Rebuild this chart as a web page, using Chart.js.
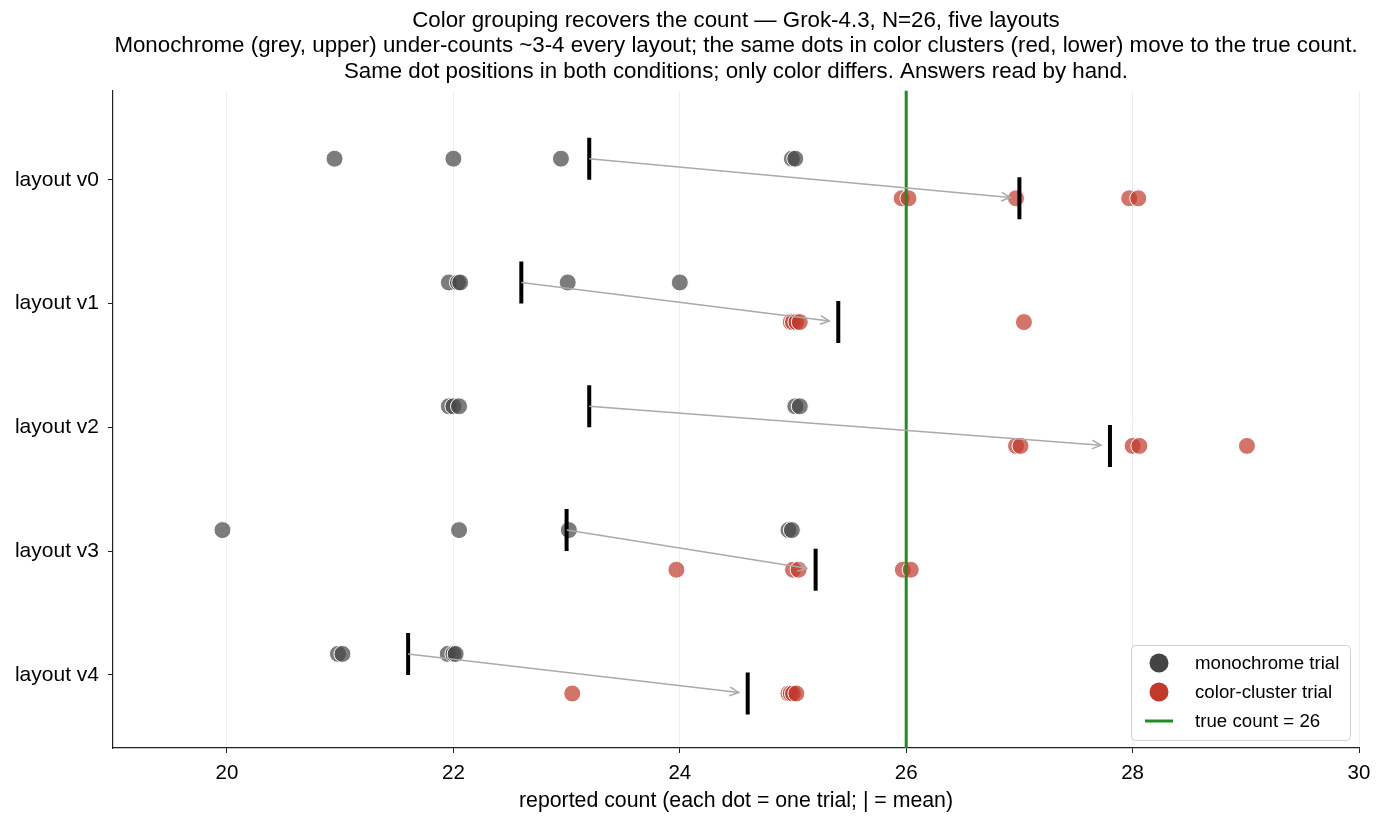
<!DOCTYPE html>
<html>
<head>
<meta charset="utf-8">
<script src="https://cdn.jsdelivr.net/npm/chart.js@4.4.1/dist/chart.umd.min.js"></script>
<style>
  body { margin: 0; background: #fff; }
  #wrap { width: 1386px; height: 825px; }
</style>
</head>
<body>
<div id="wrap"><canvas id="chart" width="1386" height="825"></canvas></div>
<script>
// layouts, top to bottom
const layouts = ['layout v0', 'layout v1', 'layout v2', 'layout v3', 'layout v4'];

// reported counts per trial (slightly jittered, as plotted)
const monoTrials = [
    [20.95, 22.0, 22.95, 24.99, 25.02],
    [21.96, 22.04, 22.06, 23.01, 24.0],
    [21.96, 22.0, 22.05, 25.02, 25.06],
    [19.96, 22.05, 23.02, 24.96, 24.99],
    [20.98, 21.02, 21.95, 22.0, 22.02]
];
const colorTrials = [
    [25.96, 26.02, 26.97, 27.97, 28.05],
    [24.98, 25.0, 25.03, 25.06, 27.04],
    [26.97, 27.01, 28.0, 28.06, 29.01],
    [23.97, 25.0, 25.05, 25.97, 26.04],
    [23.05, 24.96, 24.98, 25.0, 25.03]
];

// means per layout
const monoMeans = [23.2, 22.6, 23.2, 23.0, 21.6];
const colorMeans = [27.0, 25.4, 27.8, 25.2, 24.6];

const trueCount = 26;
const xTicks = [20, 22, 24, 26, 28, 30];

const MONO_DY = -0.17;
const COLOR_DY = 0.15;
const FONT = "'Liberation Sans', Arial, Helvetica, sans-serif";

function pointsFor(rows, dy) {
    const pts = [];
    rows.forEach((row, i) => row.forEach(v => pts.push({ x: v, y: i + dy })));
    return pts;
}
function meanPoints(means, dy) {
    return means.map((m, i) => ({ x: m, y: i + dy }));
}

// arrows from monochrome mean to color-cluster mean
const arrowPlugin = {
    id: 'arrows',
    afterDatasetsDraw(chart) {
        const { ctx, scales: { x, y } } = chart;
        ctx.save();
        ctx.strokeStyle = '#aaaaaa';
        ctx.lineWidth = 1.5;
        monoMeans.forEach((m, i) => {
            const x0 = x.getPixelForValue(m), y0 = y.getPixelForValue(i + MONO_DY);
            let x1 = x.getPixelForValue(colorMeans[i]), y1 = y.getPixelForValue(i + COLOR_DY);
            const ang = Math.atan2(y1 - y0, x1 - x0);
            x1 -= Math.cos(ang) * 9;
            y1 -= Math.sin(ang) * 9;
            ctx.beginPath();
            ctx.moveTo(x0, y0);
            ctx.lineTo(x1, y1);
            ctx.stroke();
            const hl = 10, hw = 0.45;
            ctx.beginPath();
            ctx.moveTo(x1 - hl * Math.cos(ang - hw), y1 - hl * Math.sin(ang - hw));
            ctx.lineTo(x1, y1);
            ctx.lineTo(x1 - hl * Math.cos(ang + hw), y1 - hl * Math.sin(ang + hw));
            ctx.stroke();
        });
        ctx.restore();
    }
};

// legend box in the lower right corner
const legendPlugin = {
    id: 'boxLegend',
    afterDraw(chart) {
        const { ctx, chartArea } = chart;
        const w = 219, h = 95;
        const bx = chartArea.right - 9 - w, by = chartArea.bottom - 8 - h;
        ctx.save();
        ctx.fillStyle = 'rgba(255,255,255,0.85)';
        ctx.strokeStyle = '#d0d0d0';
        ctx.lineWidth = 1;
        ctx.beginPath();
        ctx.roundRect(bx + 0.5, by + 0.5, w, h, 4);
        ctx.fill();
        ctx.stroke();
        const items = [
            { label: 'monochrome trial', kind: 'dot', color: '#444444' },
            { label: 'color-cluster trial', kind: 'dot', color: '#c0392b' },
            { label: 'true count = ' + trueCount, kind: 'line', color: '#228b22' }
        ];
        ctx.font = '18.7px ' + FONT;
        ctx.textBaseline = 'middle';
        items.forEach((it, k) => {
            const cy = by + 18 + k * 29;
            const cx = bx + 28;
            if (it.kind === 'dot') {
                ctx.fillStyle = it.color;
                ctx.beginPath();
                ctx.arc(cx, cy, 9.5, 0, Math.PI * 2);
                ctx.fill();
            } else {
                ctx.strokeStyle = it.color;
                ctx.lineWidth = 3;
                ctx.beginPath();
                ctx.moveTo(cx - 14, cy);
                ctx.lineTo(cx + 14, cy);
                ctx.stroke();
            }
            ctx.fillStyle = '#000';
            ctx.fillText(it.label, bx + 64, cy + 1);
        });
        ctx.restore();
    }
};

const yMin = -0.72, yMax = 4.59;

new Chart(document.getElementById('chart'), {
    type: 'scatter',
    data: {
        datasets: [
            {
                label: 'true count',
                type: 'line',
                data: [{ x: trueCount, y: yMin }, { x: trueCount, y: yMax }],
                borderColor: '#228b22',
                borderWidth: 3,
                pointRadius: 0,
                order: 0
            },
            {
                label: 'mono mean',
                data: meanPoints(monoMeans, MONO_DY),
                pointStyle: 'line',
                rotation: 90,
                pointRadius: 21,
                borderColor: '#000',
                borderWidth: 4,
                order: 1
            },
            {
                label: 'color mean',
                data: meanPoints(colorMeans, COLOR_DY),
                pointStyle: 'line',
                rotation: 90,
                pointRadius: 21,
                borderColor: '#000',
                borderWidth: 4,
                order: 1
            },
            {
                label: 'monochrome trial',
                data: pointsFor(monoTrials, MONO_DY),
                pointRadius: 8.5,
                backgroundColor: 'rgba(68,68,68,0.7)',
                borderColor: '#ffffff',
                borderWidth: 1,
                order: 3
            },
            {
                label: 'color-cluster trial',
                data: pointsFor(colorTrials, COLOR_DY),
                pointRadius: 8.5,
                backgroundColor: 'rgba(192,57,43,0.7)',
                borderColor: '#ffffff',
                borderWidth: 1,
                order: 2
            }
        ]
    },
    options: {
        responsive: false,
        animation: false,
        layout: { padding: { left: 0, right: 27, top: 0, bottom: 0 } },
        plugins: {
            legend: { display: false },
            tooltip: { enabled: false },
            title: {
                display: true,
                fullSize: false,
                text: [
                    'Color grouping recovers the count \u2014 Grok-4.3, N=26, five layouts',
                    'Monochrome (grey, upper) under-counts ~3-4 every layout; the same dots in color clusters (red, lower) move to the true count.',
                    'Same dot positions in both conditions; only color differs. Answers read by hand.'
                ],
                color: '#000',
                font: { family: FONT, size: 22.3, weight: 'normal', lineHeight: 1.145 },
                padding: { top: 8, bottom: 6 }
            }
        },
        scales: {
            x: {
                type: 'linear',
                min: 18.993,
                max: 30,
                afterBuildTicks: s => { s.ticks = xTicks.map(v => ({ value: v })); },
                afterFit: s => { s.height = 77; },
                grid: { color: '#efefef', lineWidth: 1, tickLength: 5, tickColor: '#222' },
                border: { color: '#222', width: 1.2 },
                ticks: { color: '#000', font: { family: FONT, size: 20.5 }, padding: 8 },
                title: {
                    display: true,
                    text: 'reported count (each dot = one trial; | = mean)',
                    color: '#000',
                    font: { family: FONT, size: 21.3 },
                    padding: { top: 11, bottom: 11 }
                }
            },
            y: {
                type: 'linear',
                reverse: true,
                min: yMin,
                max: yMax,
                afterBuildTicks: s => { s.ticks = layouts.map((_, i) => ({ value: i })); },
                afterFit: s => { s.width = 113; },
                grid: { drawOnChartArea: false, tickLength: 5, tickColor: '#222' },
                border: { color: '#222', width: 1.2 },
                ticks: {
                    color: '#000',
                    font: { family: FONT, size: 21 },
                    padding: 9,
                    callback: v => layouts[v]
                }
            }
        }
    },
    plugins: [arrowPlugin, legendPlugin]
});
</script>
</body>
</html>
